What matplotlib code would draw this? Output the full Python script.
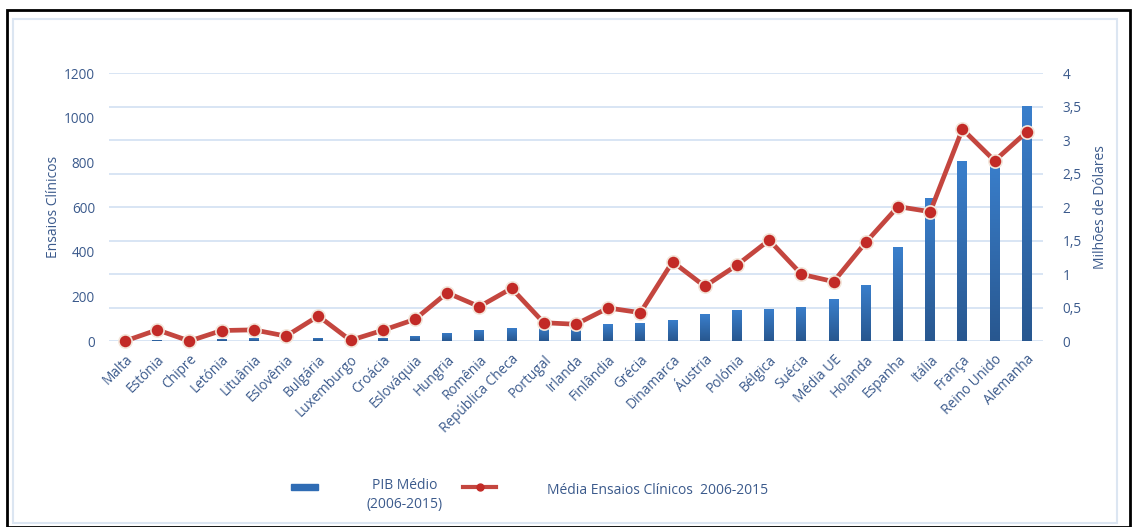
import matplotlib

matplotlib.use("Agg")
import matplotlib.pyplot as plt
import numpy as np
from matplotlib.colors import LinearSegmentedColormap
from matplotlib.lines import Line2D
from matplotlib.patches import Rectangle
from matplotlib.ticker import FuncFormatter

countries = [
    "Malta", "Estónia", "Chipre", "Letónia", "Lituânia", "Eslovênia",
    "Bulgária", "Luxemburgo", "Croácia", "Eslováquia", "Hungria", "Romênia",
    "República Checa", "Portugal", "Irlanda", "Finlândia", "Grécia",
    "Dinamarca", "Áustria", "Polónia", "Bélgica", "Suécia", "Média UE",
    "Holanda", "Espanha", "Itália", "França", "Reino Unido", "Alemanha",
]
# average GDP 2006-2015 (right axis)
pib_medio = [
    0.01, 0.02, 0.02, 0.03, 0.04, 0.05, 0.05, 0.05, 0.05, 0.08, 0.12, 0.17,
    0.20, 0.21, 0.21, 0.25, 0.27, 0.32, 0.40, 0.47, 0.48, 0.51, 0.62,
    0.84, 1.40, 2.13, 2.68, 2.70, 3.51,
]
# average number of clinical trials 2006-2015 (left axis)
ensaios = [
    0, 50, 0, 47, 50, 22, 112, 3, 48, 97, 216, 154, 236, 82, 75, 148, 127,
    355, 245, 340, 452, 299, 266, 442, 602, 579, 949, 807, 937,
]
left_ticks = [0, 200, 400, 600, 800, 1000, 1200]
right_ticks = [0, 0.5, 1, 1.5, 2, 2.5, 3, 3.5, 4]

TEXT_C = "#3B5A8C"
GRID_C = "#D6E3F3"
BAR_C = "#2F6CB4"
LINE_C = "#C4463F"
MARK_C = "#C22A26"
bar_cmap = LinearSegmentedColormap.from_list("bar", ["#28578F", "#3A7FCC"])

plt.rcParams["font.family"] = ["Open Sans", "DejaVu Sans"]

fig = plt.figure(figsize=(11.34, 5.27), dpi=100)
ax_r = fig.add_axes([0.0961, 0.3529, 0.8236, 0.5085])
ax_l = ax_r.twinx()
ax_l.yaxis.tick_left()
ax_l.yaxis.set_label_position("left")
ax_r.yaxis.tick_right()
ax_r.yaxis.set_label_position("right")
ax_l.set_zorder(ax_r.get_zorder() + 1)
ax_l.patch.set_visible(False)

x = list(range(len(countries)))

# GDP bars on the right axis, filled with a vertical gradient
bars = ax_r.bar(x, pib_medio, width=0.31, color=BAR_C, zorder=2)
grad = np.linspace(0, 1, 256).reshape(-1, 1)
for b in bars:
    x0, y0 = b.get_x(), b.get_y()
    im = ax_r.imshow(grad, cmap=bar_cmap, aspect="auto", origin="lower",
                     extent=(x0, x0 + b.get_width(), y0, y0 + b.get_height()),
                     zorder=2.5)
    im.set_clip_path(b)
ax_r.set_ylim(0, 4)
ax_r.set_yticks(right_ticks)
ax_r.yaxis.set_major_formatter(
    FuncFormatter(lambda v, _: f"{v:g}".replace(".", ","))
)
ax_r.grid(axis="y", color=GRID_C, lw=1.3, zorder=0)
ax_r.set_axisbelow(True)

# clinical trials line on the left axis
ax_l.plot(x, ensaios, color=LINE_C, lw=3.4, marker="o", ms=9.5,
          mfc=MARK_C, mec="#F3E6DA", mew=1.2, zorder=3, clip_on=False)
ax_l.set_ylim(0, 1200)
ax_l.set_yticks(left_ticks)

ax_r.set_xlim(-0.5, len(countries) - 0.5)
ax_r.set_xticks(x)
ax_r.set_xticklabels(countries, rotation=45, ha="right",
                     rotation_mode="anchor", fontsize=9.8, color=TEXT_C)

for a in (ax_l, ax_r):
    for s in a.spines.values():
        s.set_visible(False)
    a.tick_params(length=0, labelsize=9.8, labelcolor=TEXT_C)
ax_r.tick_params(axis="x", pad=8)
ax_l.tick_params(axis="y", pad=10)
ax_r.tick_params(axis="y", pad=14)

ax_l.set_ylabel("Ensaios Clínicos", fontsize=10, color=TEXT_C, labelpad=2)
ax_r.set_ylabel("Milhões de Dólares", fontsize=10, color=TEXT_C, labelpad=8)

# frame around the figure
fig.add_artist(Rectangle((7 / 1134, 0), 1123 / 1134, 517 / 527,
                         transform=fig.transFigure, fill=False,
                         ec="black", lw=2))
fig.add_artist(Rectangle((13 / 1134, 4 / 527), 1104 / 1134, 504 / 527,
                         transform=fig.transFigure, fill=False,
                         ec="#DCE6F2", lw=1.5))

# legend
fig.add_artist(Rectangle((291 / 1134, 1 - 490 / 527), 27 / 1134, 6 / 527,
                         transform=fig.transFigure, color=BAR_C))
fig.text(405 / 1134, 1 - 495 / 527, "PIB Médio\n(2006-2015)", ha="center",
         va="center", fontsize=10, color=TEXT_C, linespacing=1.3)
for seg in ([463, 476], [483, 496]):
    fig.add_artist(Line2D([s / 1134 for s in seg], [1 - 487 / 527] * 2,
                          transform=fig.transFigure, color=LINE_C, lw=3))
fig.add_artist(Line2D([479.5 / 1134], [1 - 487 / 527],
                      transform=fig.transFigure, color=MARK_C,
                      marker="o", ms=5, lw=0))
fig.text(547 / 1134, 1 - 491 / 527, "Média Ensaios Clínicos  2006-2015",
         ha="left", va="center", fontsize=10, color=TEXT_C)

fig.savefig("out.png", dpi=100, facecolor="white")
